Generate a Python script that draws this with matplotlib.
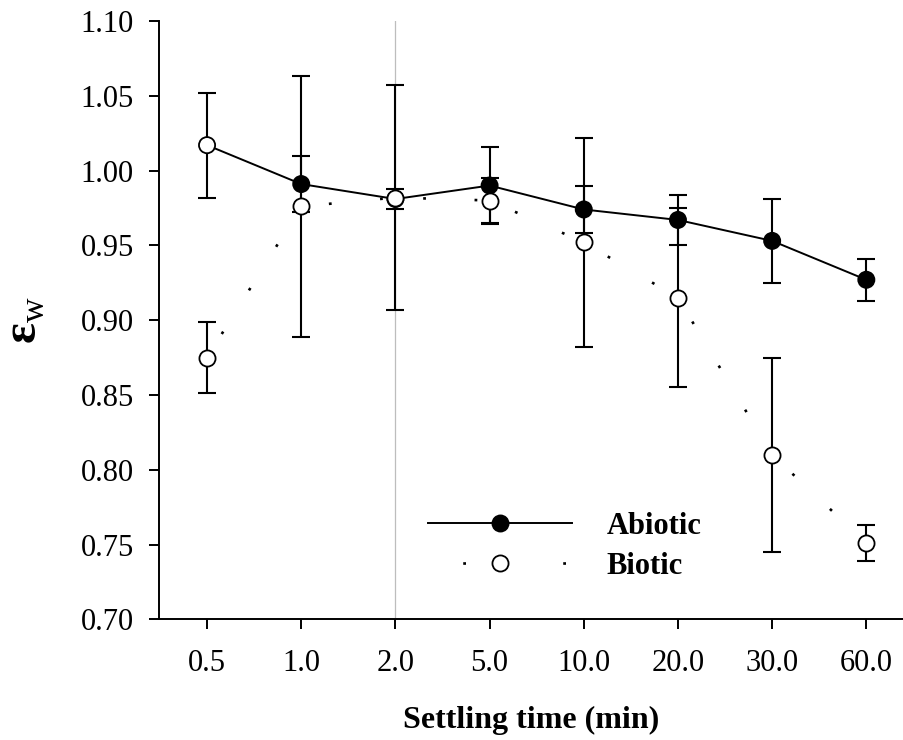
import numpy as np
import matplotlib
matplotlib.use('Agg')
import matplotlib.pyplot as plt
from matplotlib.lines import Line2D

# settling times (categories on the x axis)
times = ['0.5', '1.0', '2.0', '5.0', '10.0', '20.0', '30.0', '60.0']

# abiotic series
abiotic = [1.017, 0.991, 0.981, 0.990, 0.974, 0.967, 0.953, 0.927]
abiotic_err = [0.035, 0.019, 0.007, 0.026, 0.016, 0.017, 0.028, 0.014]

# biotic series
biotic = [0.875, 0.976, 0.982, 0.980, 0.952, 0.915, 0.810, 0.751]
biotic_err = [0.024, 0.087, 0.075, 0.015, 0.070, 0.060, 0.065, 0.012]

y_ticks = [0.70, 0.75, 0.80, 0.85, 0.90, 0.95, 1.00, 1.05, 1.10]

plt.rcParams['font.family'] = ['Liberation Serif', 'DejaVu Serif']
plt.rcParams['mathtext.fontset'] = 'custom'
plt.rcParams['mathtext.rm'] = 'Liberation Serif'
plt.rcParams['mathtext.bf'] = 'Liberation Serif:bold'
plt.rcParams['lines.scale_dashes'] = False

fig = plt.figure(figsize=(9.04, 7.40), dpi=100)
ax = fig.add_axes([0.1759, 0.1631, 0.8241, 0.8085])

x = np.arange(len(times))

# grey reference line at 2.0 min
ax.axvline(x[times.index('2.0')], color='#bdbdbd', lw=0.9, zorder=0)

# error bars
ax.errorbar(x, abiotic, yerr=abiotic_err, fmt='none', ecolor='black',
            elinewidth=1.5, capsize=6.8, capthick=1.5, zorder=2)
ax.errorbar(x, biotic, yerr=biotic_err, fmt='none', ecolor='black',
            elinewidth=1.5, capsize=6.8, capthick=1.5, zorder=2)

# abiotic: solid line + filled circles (first point drawn open)
ax.plot(x, abiotic, color='black', lw=1.4, zorder=3)
fills = ['white'] + ['black'] * (len(x) - 1)
ax.scatter(x, abiotic, s=135, c=fills, edgecolors='black', linewidths=1.3, zorder=4)

# biotic: sparse dotted segments + open circles
dots = (17, (2.0, 35))
for i in range(len(x) - 1):
    ax.plot(x[i:i + 2], biotic[i:i + 2], color='black', lw=1.9, ls=dots, zorder=3)
ax.scatter(x, biotic, s=135, c='white', edgecolors='black', linewidths=1.3, zorder=5)

ax.set_xlim(-0.51, 7.40)
ax.set_ylim(0.70, 1.10)
ax.set_xticks(x)
ax.set_xticklabels(times)
ax.set_yticks(y_ticks)
ax.set_yticklabels(['%.2f' % v for v in y_ticks])

ax.spines['top'].set_visible(False)
ax.spines['right'].set_visible(False)
ax.spines['left'].set_linewidth(1.4)
ax.spines['bottom'].set_linewidth(1.4)
ax.tick_params(axis='both', direction='out', length=7.2, width=1.4, labelsize=22)
ax.tick_params(axis='x', pad=14)
ax.tick_params(axis='y', pad=11)

ax.set_xlabel('Settling time (min)', fontsize=23, fontweight='bold', labelpad=20)
ax.set_ylabel(r'$\mathbf{ε}_{\mathrm{w}}$', fontsize=35, labelpad=24)

# legend
h_ab = Line2D([0], [0], color='black', lw=1.4, marker='o', markersize=11.6,
              markerfacecolor='black', markeredgecolor='black', markeredgewidth=1.3)
h_bi = Line2D([0], [0], color='black', lw=1.9, ls=(-25, (2.0, 70)), marker='o',
              markersize=11.6, markerfacecolor='white', markeredgecolor='black',
              markeredgewidth=1.3)
leg = ax.legend([h_ab, h_bi], ['Abiotic', 'Biotic'], loc='upper left',
                bbox_to_anchor=(0.361, 0.18), frameon=False, borderpad=0,
                borderaxespad=0, handlelength=4.7, handletextpad=1.15,
                labelspacing=0.36, numpoints=1, prop={'size': 22, 'weight': 'bold'})

fig.savefig('out.png', dpi=100)
